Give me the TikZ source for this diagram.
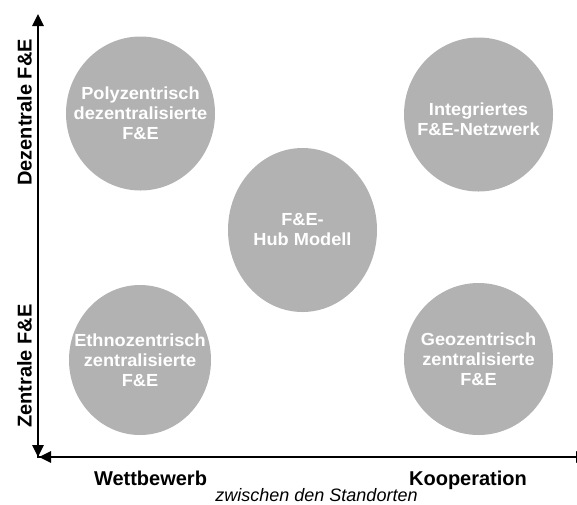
\documentclass[tikz,border=0pt]{standalone}
\usepackage{fontspec}
\setmainfont{Liberation Sans}
\newfontfamily\blobfont[FakeStretch=1.04]{Liberation Sans}
\usetikzlibrary{arrows.meta,shapes.geometric}
\definecolor{blobgray}{RGB}{178,178,178}
\begin{document}
\begin{tikzpicture}[x=1pt,y=-1pt,
  blob/.style={ellipse,fill=blobgray,draw=none,inner sep=0pt},
  blobtext/.style={text=white,align=center,font=\blobfont\fontsize{17.5}{20}\selectfont\bfseries},
  axis/.style={line width=2.6pt,-{Triangle[length=12pt,width=11pt]}},
  axislabel/.style={font=\fontsize{20}{24}\selectfont\bfseries},
  note/.style={font=\fontsize{18}{22}\selectfont\itshape}]
\useasboundingbox (0,0) rectangle (577,504);

% strategy types
\node[blob,minimum width=149pt,minimum height=154pt] (tl) at (140.5,113.5) {};
\node[blob,minimum width=149pt,minimum height=154pt] (tr) at (478.5,114.5) {};
\node[blob,minimum width=149pt,minimum height=164pt] (hub) at (302.5,230) {};
\node[blob,minimum width=142pt,minimum height=150pt] (bl) at (140,360) {};
\node[blob,minimum width=149pt,minimum height=152pt] (br) at (478.5,359) {};

\node[blobtext] at (tl) {Polyzentrisch\\dezentralisierte\\F\&E};
\node[blobtext] at ([yshift=-5pt]tr) {Integriertes\\F\&E-Netzwerk};
\node[blobtext] at (hub) {F\&E-\\Hub Modell};
\node[blobtext] at (bl) {Ethnozentrisch\\zentralisierte\\F\&E};
\node[blobtext] at (br) {Geozentrisch\\zentralisierte\\F\&E};

% axes
\coordinate (corner) at (38,457);
\coordinate (top) at (38,14);
\coordinate (right) at (588,457);
\draw[axis] ([yshift=-1pt]corner) -- (top);
\draw[axis] (38,440) -- (corner);
\draw[axis] (corner) -- (right);
\draw[axis] (60,457) -- ([xshift=1pt]corner);

% axis labels
\node[axislabel,rotate=90,anchor=base] (dez) at (31.7,112.5) {Dezentrale F\&E};
\node[axislabel,rotate=90,anchor=base] (zen) at (31.7,366) {Zentrale F\&E};
\node[axislabel,anchor=base] (wett) at (150.5,485) {Wettbewerb};
\node[axislabel,anchor=base] (koop) at (468,485) {Kooperation};
\node[note,anchor=base] (zw) at (316.5,501) {zwischen den Standorten};
\end{tikzpicture}
\end{document}
